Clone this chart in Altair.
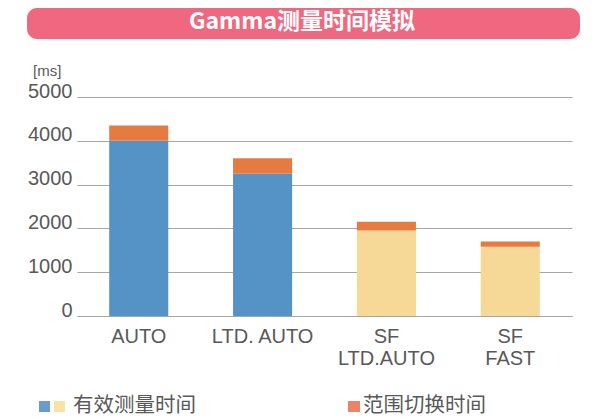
import altair as alt
import pandas as pd

# ---- data ----
title_text = "Gamma测量时间模拟"
unit_label = "[ms]"
categories = ["AUTO", "LTD. AUTO", "SF\nLTD.AUTO", "SF\nFAST"]
effective_ms = [4000, 3250, 1950, 1580]
switch_ms = [350, 350, 200, 120]
effective_colors = ["#5593C6", "#5593C6", "#F6D997", "#F6D997"]
switch_color = "#E67B42"
y_ticks = [0, 1000, 2000, 3000, 4000, 5000]
legend_labels = ["有效测量时间", "范围切换时间"]

rows = []
for c, e, s, col in zip(categories, effective_ms, switch_ms, effective_colors):
    rows.append({"cat": c, "start": 0, "end": e, "color": col, "series": legend_labels[0]})
    rows.append({"cat": c, "start": e, "end": e + s, "color": switch_color, "series": legend_labels[1]})
df = pd.DataFrame(rows)

GRAY = "#595959"
LINE = "#A6A6A6"

bars = alt.Chart(df).mark_bar().encode(
    x=alt.X(
        "cat:N",
        sort=categories,
        scale=alt.Scale(paddingInner=0.523, paddingOuter=0.26),
        axis=alt.Axis(
            title=None,
            labelAngle=0,
            labelExpr="split(datum.label, '\\n')",
            labelFont="Liberation Sans",
            labelFontSize=20,
            labelColor=GRAY,
            labelPadding=10,
            labelLineHeight=22,
            ticks=False,
            domain=True,
            domainColor=LINE,
            domainWidth=1,
            grid=False,
        ),
    ),
    y=alt.Y(
        "start:Q",
        scale=alt.Scale(domain=[0, 5000], nice=False),
        axis=alt.Axis(
            title=None,
            values=y_ticks,
            format="d",
            domain=False,
            ticks=False,
            grid=True,
            gridColor=LINE,
            gridWidth=1,
            labelFont="Liberation Sans",
            labelFontSize=20,
            labelColor=GRAY,
            labelPadding=5,
            labelBaseline="alphabetic",
        ),
    ),
    y2="end:Q",
    color=alt.Color("color:N", scale=None),
)

one = pd.DataFrame({"t": [title_text]})

banner = alt.Chart(one).mark_rect(color="#F0687F", cornerRadius=10).encode(
    x=alt.value(-50), x2=alt.value(503), y=alt.value(-89), y2=alt.value(-58)
)
banner_text = alt.Chart(one).mark_text(
    font="Noto Sans CJK SC", fontWeight="bold", fontSize=23, color="white",
    align="center", baseline="middle",
).encode(x=alt.value(225), y=alt.value(-75), text="t:N")

unit = alt.Chart(pd.DataFrame({"t": [unit_label]})).mark_text(
    font="Liberation Sans", fontSize=15, color=GRAY, align="left", baseline="middle"
).encode(x=alt.value(-44), y=alt.value(-26), text="t:N")

sq_blue = alt.Chart(one).mark_rect(color="#6A9BCB").encode(
    x=alt.value(-38), x2=alt.value(-27), y=alt.value(304), y2=alt.value(315)
)
sq_yellow = alt.Chart(one).mark_rect(color="#FCE1A5").encode(
    x=alt.value(-23), x2=alt.value(-12), y=alt.value(304), y2=alt.value(315)
)
sq_orange = alt.Chart(one).mark_rect(color="#EE8266").encode(
    x=alt.value(271), x2=alt.value(283), y=alt.value(304), y2=alt.value(315)
)
leg_text1 = alt.Chart(pd.DataFrame({"t": [legend_labels[0]]})).mark_text(
    font="Noto Sans CJK SC", fontSize=20.5, color=GRAY, align="left", baseline="middle"
).encode(x=alt.value(-4), y=alt.value(309), text="t:N")
leg_text2 = alt.Chart(pd.DataFrame({"t": [legend_labels[1]]})).mark_text(
    font="Noto Sans CJK SC", fontSize=20.5, color=GRAY, align="left", baseline="middle"
).encode(x=alt.value(286), y=alt.value(309), text="t:N")

chart = alt.layer(
    bars, banner, banner_text, unit, sq_blue, sq_yellow, sq_orange, leg_text1, leg_text2
).properties(
    width=495,
    height=219,
    padding={"left": 69, "top": 89, "right": 10, "bottom": 104},
    autosize=alt.AutoSizeParams(type="none"),
).configure_view(stroke=None)

chart.save("out.html", embed_options={"renderer": "svg", "actions": False})
